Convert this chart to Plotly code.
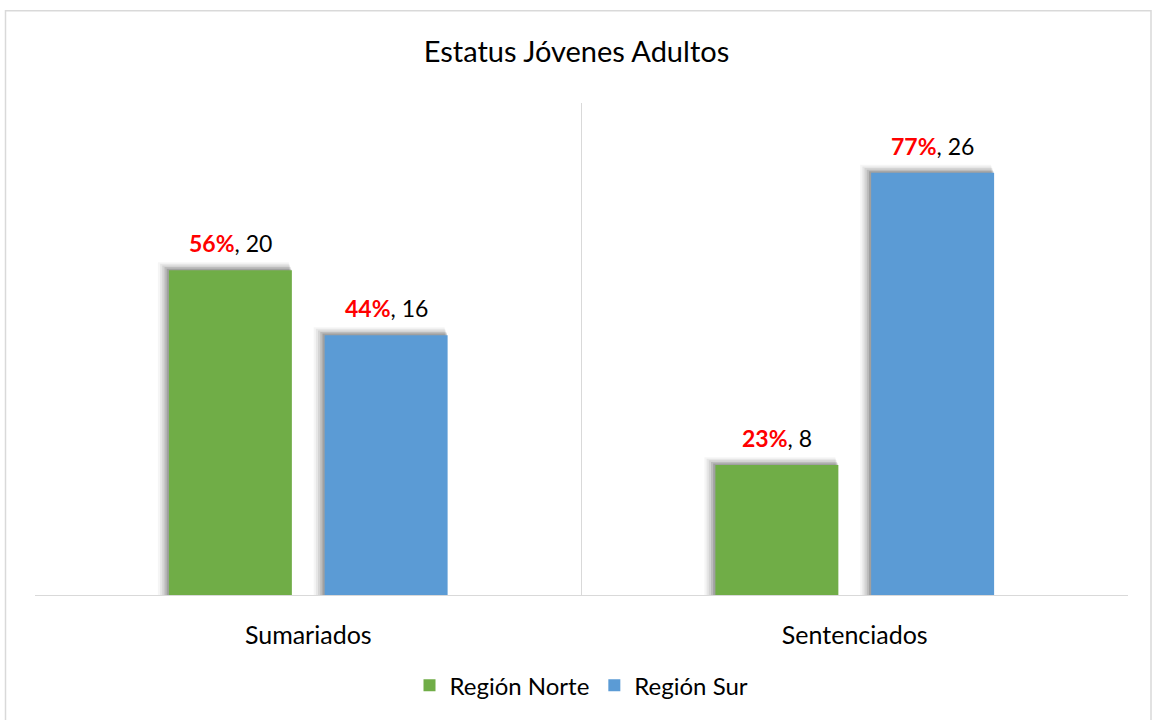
import plotly.graph_objects as go

categories = ["Sumariados", "Sentenciados"]
norte_values = [20, 8]
sur_values = [16, 26]
norte_pct = ["56%", "23%"]
sur_pct = ["44%", "77%"]
series_names = ["Región Norte", "Región Sur"]
title_text = "Estatus Jóvenes Adultos"

GREEN = "#70AD47"
BLUE = "#5B9BD5"
FONT = "Lato, Open Sans, sans-serif"

BW = 0.225
OFF_N = -0.255
OFF_S = 0.030
PX_X = 1 / 547.0
PX_Y = 1 / 16.3

fig = go.Figure()

# soft drop shadows (layers)
for vals, off in ((norte_values, OFF_N), (sur_values, OFF_S)):
    for k, a in ((10, 0.04), (8, 0.06), (6, 0.08), (4, 0.11), (2, 0.15)):
        fig.add_trace(go.Bar(
            x=categories, y=[v + k * 0.8 * PX_Y for v in vals],
            width=BW + k * 0.8 * PX_X, offset=off - k * 1.1 * PX_X,
            marker=dict(color=f"rgba(0,0,0,{a})", line=dict(width=0)),
            showlegend=False, hoverinfo="skip"))

fig.add_trace(go.Bar(
    x=categories, y=norte_values, name=series_names[0],
    width=BW, offset=OFF_N,
    marker=dict(color=GREEN, line=dict(width=0)), hoverinfo="skip"))
fig.add_trace(go.Bar(
    x=categories, y=sur_values, name=series_names[1],
    width=BW, offset=OFF_S,
    marker=dict(color=BLUE, line=dict(width=0)), hoverinfo="skip"))

annotations = []
for vals, pcts, off in ((norte_values, norte_pct, OFF_N), (sur_values, sur_pct, OFF_S)):
    for c, v, p in zip(categories, vals, pcts):
        annotations.append(dict(
            x=c, y=v, xref="x", yref="y",
            xshift=(off + BW / 2) / PX_X, yshift=11,
            text=f"<span style='color:#FF0000'><b>{p}</b></span>, {v}",
            showarrow=False, xanchor="center", yanchor="bottom",
            font=dict(size=23, color="#000000", family=FONT)))

fig.update_layout(
    width=1153, height=720,
    margin=dict(l=35, r=25, t=103, b=123),
    barmode="overlay",
    paper_bgcolor="white", plot_bgcolor="white",
    font=dict(family=FONT, size=23, color="#000000"),
    title=dict(text=title_text, x=0.5, xanchor="center", y=1 - 52 / 720, yanchor="middle",
               font=dict(size=29, family=FONT, color="#000000")),
    showlegend=True,
    legend=dict(orientation="h", x=0.5, xanchor="center", y=-0.184, yanchor="middle",
                font=dict(size=24, family=FONT), itemwidth=30, traceorder="normal"),
    xaxis=dict(range=[-0.5, 1.5], tickson="boundaries", showgrid=True, gridcolor="#D9D9D9",
               gridwidth=1, showline=True, linecolor="#D9D9D9", linewidth=1, ticks="",
               ticklabelstandoff=18, tickfont=dict(size=25, family=FONT), fixedrange=True),
    yaxis=dict(range=[0, 30.3], showgrid=False, showticklabels=False, zeroline=False,
               showline=False, fixedrange=True),
    annotations=annotations,
    shapes=[dict(type="rect", xref="paper", yref="paper",
                 x0=(5.5 - 35) / 1093, x1=(1151 - 35) / 1093,
                 y0=(597 - 730) / 494, y1=(597 - 10.5) / 494,
                 line=dict(color="#D9D9D9", width=1.5), fillcolor="rgba(0,0,0,0)", layer="below")],
)

fig.write_html("out.html", config={"displayModeBar": False},
               post_script="document.body.style.margin='0';document.body.style.overflow='hidden';")
